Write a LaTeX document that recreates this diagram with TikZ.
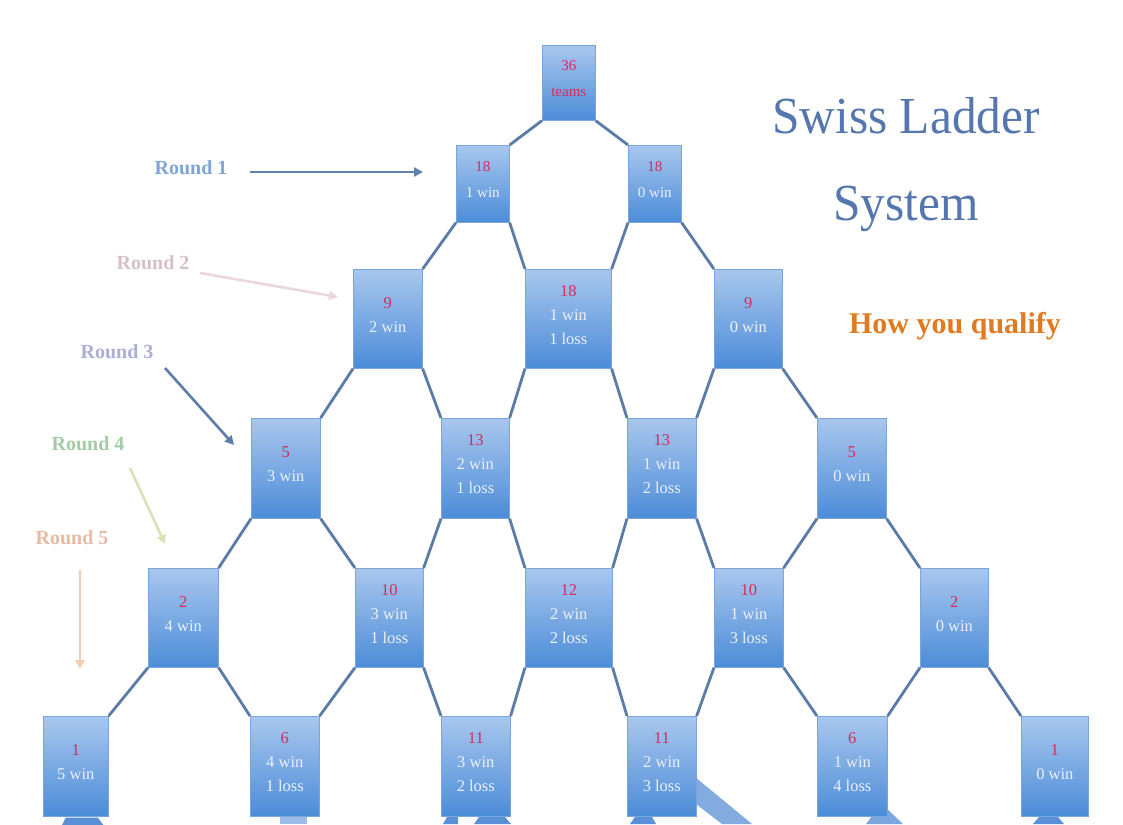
\documentclass[tikz,border=0pt]{standalone}
\usepackage{fontspec}
\setmainfont{Liberation Serif}
\usetikzlibrary{arrows.meta}

\pgfdeclarelayer{paper}
\pgfdeclarelayer{links}
\pgfsetlayers{paper,links,main}

\definecolor{boxtop}{HTML}{A9C7EE}
\definecolor{boxbot}{HTML}{4C8CD8}
\definecolor{boxedge}{HTML}{7AA5DB}
\definecolor{linkblue}{HTML}{5B7CA6}
\definecolor{numred}{HTML}{D02D5B}
\definecolor{boxtxt}{HTML}{EAF1FB}
\definecolor{stubblue}{HTML}{5A90D6}
\definecolor{titleblue}{HTML}{5577AE}
\definecolor{qualify}{HTML}{E07B22}
\definecolor{rOne}{HTML}{7FA6D6}
\definecolor{rTwo}{HTML}{D6C0C7}
\definecolor{rThree}{HTML}{ACAED8}
\definecolor{rFour}{HTML}{A3CCA6}
\definecolor{rFive}{HTML}{E6BCA4}
\definecolor{aOne}{HTML}{5E81AF}
\definecolor{aTwo}{HTML}{EBD8DC}
\definecolor{aThree}{HTML}{5D7EA9}
\definecolor{aFour}{HTML}{D9E2B9}
\definecolor{aFive}{HTML}{F1CDB4}

\tikzset{
  ladder/.style={rectangle, inner sep=0pt, draw=boxedge, line width=0.6pt,
    top color=boxtop, bottom color=boxbot, anchor=north west},
  tally/.style={inner sep=0pt, align=center, text=boxtxt,
    font=\fontsize{16.5}{24}\selectfont},
  tallysmall/.style={tally, font=\fontsize{15}{26}\selectfont},
  link/.style={draw=linkblue, line width=2.8pt},
  stub/.style={fill=stubblue, draw=none},
  titletext/.style={text=titleblue, font=\fontsize{52}{52}\selectfont},
  roundlbl/.style={inner sep=0pt, font=\bfseries\fontsize{20}{20}\selectfont},
  roundarrow/.style={line width=2.6pt, -{Triangle[length=9pt,width=9pt]}},
}

% box with its tally text: [text style]{name}{left}{top}{right}{bottom}{text}
\newcommand\ladderbox[6][tally]{%
  \node[ladder, minimum width={(#5-#3)*1pt}, minimum height={(#6-#4)*1pt}]
    (#2) at (#3,#4) {};
  \node[#1] (#2-txt) at ([yshift=4pt]#2.center)}
\newcommand\nm[1]{\textcolor{numred}{#1}}

\begin{document}
\begin{tikzpicture}[x=1pt,y=-1pt]
\begin{pgfonlayer}{paper}
  \fill[white] (0,0) rectangle (1123,824);
\end{pgfonlayer}
\useasboundingbox (0,0) rectangle (1123,824);

% ---- the ladder ----
\ladderbox[tallysmall]{b01}{542}{45}{595}{120} {\nm{36}\\\nm{teams}};

\ladderbox[tallysmall]{b11}{456}{145}{509}{222} {\nm{18}\\1 win};
\ladderbox[tallysmall]{b12}{628}{145}{681}{222} {\nm{18}\\0 win};

\ladderbox{b21}{353}{269}{422}{368} {\nm{9}\\2 win};
\ladderbox{b22}{525}{269}{611}{368} {\nm{18}\\1 win\\1 loss};
\ladderbox{b23}{714}{269}{782}{368} {\nm{9}\\0 win};

\ladderbox{b31}{251}{418}{320}{518} {\nm{5}\\3 win};
\ladderbox{b32}{441}{418}{509}{518} {\nm{13}\\2 win\\1 loss};
\ladderbox{b33}{627}{418}{696}{518} {\nm{13}\\1 win\\2 loss};
\ladderbox{b34}{817}{418}{886}{518} {\nm{5}\\0 win};

\ladderbox{b41}{148}{568}{218}{667} {\nm{2}\\4 win};
\ladderbox{b42}{355}{568}{423}{667} {\nm{10}\\3 win\\1 loss};
\ladderbox{b43}{525}{568}{612}{667} {\nm{12}\\2 win\\2 loss};
\ladderbox{b44}{714}{568}{783}{667} {\nm{10}\\1 win\\3 loss};
\ladderbox{b45}{920}{568}{988}{667} {\nm{2}\\0 win};

\ladderbox{b51}{43}{716}{108}{816} {\nm{1}\\5 win};
\ladderbox{b52}{250}{716}{319}{816} {\nm{6}\\4 win\\1 loss};
\ladderbox{b53}{441}{716}{510}{816} {\nm{11}\\3 win\\2 loss};
\ladderbox{b54}{627}{716}{696}{816} {\nm{11}\\2 win\\3 loss};
\ladderbox{b55}{817}{716}{887}{816} {\nm{6}\\1 win\\4 loss};
\ladderbox{b56}{1021}{716}{1088}{816} {\nm{1}\\0 win};

% connectors: each box splits into its two neighbours of the next round
\begin{pgfonlayer}{links}
  \foreach \k [evaluate=\k as \kk using int(\k+1)] in {0,...,4} {
    \foreach \i [evaluate=\i as \j using int(\i+1)] in {1,...,\kk} {
      \ifnum\k=0\relax
        \ifnum\i=1\relax
          \draw[link] (b01.south west) -- (b11.north east);
          \draw[link] (b01.south east) -- (b12.north west);
        \fi
      \else
        \draw[link] (b\k\i.south west) -- (b\kk\i.north east);
        \draw[link] (b\k\i.south east) -- (b\kk\j.north west);
      \fi
    }
  }
  % pieces of the next round running off the lower edge
  \fill[stub] (b51.south) ++(-10,1) -- ++(-4,8) -- ++(42,0) -- ++(-6,-8) -- cycle;
  \fill[stub, opacity=0.6] (280,817) rectangle (307,824);
  \fill[stub] (443,824) -- (447,817) -- (458,817) -- (458,824) -- cycle;
  \fill[stub] (474,824) -- (479,817) -- (505,817) -- (511,824) -- cycle;
  \fill[stub] (630,824) -- (635,817) -- (652,817) -- (656,824) -- cycle;
  \fill[stub, opacity=0.75] (b54.east) ++(0,12) -- (752,824) -- (722,824) -- (696,804) -- cycle;
  \fill[stub, opacity=0.8] (872,816) -- (884,806) -- (903,824) -- (866,824) -- cycle;
  \fill[stub] (1033,824) -- (1039,817) -- (1058,817) -- (1064,824) -- cycle;
\end{pgfonlayer}

% ---- title ----
\node[titletext] (titleA) at (906,116) {\scalebox{0.95}[1]{Swiss Ladder}};
\node[titletext] (titleB) at (906,209) {\scalebox{0.95}[1]{System}};
\node[text=qualify, font=\bfseries\fontsize{30}{30}\selectfont] (howq) at (955,326)
  {How you qualify};

% ---- round markers ----
\node[roundlbl, text=rOne]   (lr1) at (191,168) {Round 1};
\node[roundlbl, text=rTwo]   (lr2) at (153,263) {Round 2};
\node[roundlbl, text=rThree] (lr3) at (117,352) {Round 3};
\node[roundlbl, text=rFour]  (lr4) at (88,444)  {Round 4};
\node[roundlbl, text=rFive]  (lr5) at (72,538)  {Round 5};

\coordinate (a1s) at (250,172); \coordinate (a1e) at (423,172);
\coordinate (a2s) at (200,273); \coordinate (a2e) at (338,297);
\coordinate (a3s) at (165,368); \coordinate (a3e) at (234,445);
\coordinate (a4s) at (130,468); \coordinate (a4e) at (165,544);
\coordinate (a5s) at (80,570);  \coordinate (a5e) at (80,669);
\draw[roundarrow, aOne]   (a1s) -- (a1e);
\draw[roundarrow, aTwo]   (a2s) -- (a2e);
\draw[roundarrow, aThree] (a3s) -- (a3e);
\draw[roundarrow, aFour]  (a4s) -- (a4e);
\draw[roundarrow, aFive]  (a5s) -- (a5e);
\end{tikzpicture}
\end{document}
